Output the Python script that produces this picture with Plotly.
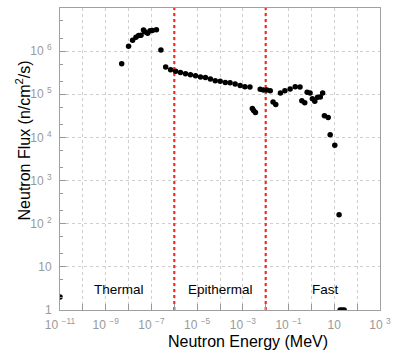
import numpy as np
import plotly.graph_objects as go

# Neutron spectrum: energy (MeV) vs flux (n/cm^2/s)
energy_mev = [
    1e-11, 5.0e-9, 1.0e-8, 1.5e-8, 2.1e-8, 2.75e-8, 3.5e-8, 4.5e-8, 5.1e-8, 6.8e-8,
    8.7e-8, 1.1e-7, 1.65e-7, 2.6e-7, 4.2e-7, 6.9e-7, 1.15e-6, 1.86e-6, 3.1e-6, 5.1e-6,
    8.5e-6, 1.4e-5, 2.3e-5, 3.8e-5, 6.2e-5, 1.02e-4, 1.7e-4, 2.75e-4, 4.6e-4, 7.6e-4,
    1.23e-3, 2.04e-3, 2.6e-3, 2.95e-3, 3.55e-3, 5.75e-3, 7.9e-3, 1.12e-2, 1.58e-2, 2.1e-2,
    2.75e-2, 4.4e-2, 6.9e-2, 0.117, 0.195, 0.316, 0.38, 0.51, 0.65, 0.87,
    1.1, 1.4, 1.86, 2.45, 3.1, 3.7, 5.4, 6.6, 10.5, 16.2,
    18.0, 22.0, 27.0,
]
flux = [
    2.0, 5.1e5, 1.3e6, 1.8e6, 2.1e6, 2.3e6, 2.35e6, 3.1e6, 2.8e6, 2.6e6,
    2.95e6, 3.0e6, 3.15e6, 1.07e6, 4.3e5, 3.7e5, 3.4e5, 3.2e5, 3.0e5, 2.85e5,
    2.7e5, 2.5e5, 2.45e5, 2.25e5, 2.05e5, 2.0e5, 1.87e5, 1.85e5, 1.74e5, 1.6e5,
    1.5e5, 1.47e5, 4.7e4, 4.2e4, 3.8e4, 1.3e5, 1.26e5, 1.25e5, 1.2e5, 6.6e4,
    5.8e4, 1.07e5, 1.2e5, 1.32e5, 1.5e5, 1.48e5, 7.1e4, 6.4e4, 1.12e5, 1.07e5,
    7.9e4, 6.9e4, 8.5e4, 8.7e4, 1.07e5, 3.2e4, 2.9e4, 1.15e4, 6.6e3, 162,
    1.0, 1.0, 1.0,
]

# Region boundaries (MeV) and region labels
boundaries_mev = [1e-6, 1e-2]
region_names = ["Thermal", "Epithermal", "Fast"]
region_centers_mev = [4e-9, 1e-4, 4.2]
label_flux = 3.0

# Decade ticks; x labels only on odd exponents, y labels up to 10^6
x_tick_exps = list(range(-11, 4))
y_tick_exps = list(range(0, 8))
x_range_exp = [-11, 3]
y_range_exp = [0, 7]


def decade_label(p):
    if p == 0:
        return "1"
    if p == 1:
        return "10"
    sign = "\u2212" if p < 0 else ""
    return f"10 <sup>{sign}{abs(p)}</sup>"


x_tick_text = [decade_label(p) if p % 2 != 0 else "" for p in x_tick_exps]
y_tick_text = [decade_label(p) if p < 7 else "" for p in y_tick_exps]

grey = "#999999"
font_family = "Liberation Sans, Arial, sans-serif"
title_font = dict(size=16, color="black", family=font_family)

fig = go.Figure()

for b in boundaries_mev:
    fig.add_trace(go.Scatter(
        x=[b, b], y=[10 ** y_range_exp[0], 10 ** y_range_exp[1]],
        mode="lines", line=dict(color="#ff2a1a", width=2.2, dash="dot"),
        hoverinfo="skip", showlegend=False,
    ))

fig.add_trace(go.Scatter(
    x=energy_mev, y=flux, mode="markers",
    marker=dict(color="black", size=5.5),
    showlegend=False,
))

for name, xc in zip(region_names, region_centers_mev):
    fig.add_annotation(
        x=np.log10(xc), y=np.log10(label_flux), xref="x", yref="y",
        text=name, showarrow=False,
        font=dict(size=13.5, color="black", family=font_family),
    )

# Axis titles
fig.add_annotation(
    text="Neutron Energy (MeV)", xref="paper", yref="paper",
    x=0.588, y=-0.105, xanchor="center", yanchor="middle",
    showarrow=False, font=title_font,
)
fig.add_annotation(
    text="Neutron Flux (n/cm<sup>2</sup>/s)", xref="paper", yref="paper",
    x=-0.116, y=0.561, xanchor="center", yanchor="middle", textangle=-90,
    showarrow=False, font=title_font,
)

axis_common = dict(
    type="log",
    tickmode="array",
    showline=True, linecolor="#a0a0a0", linewidth=1, mirror=True,
    showgrid=True, gridcolor="#cfcfcf", griddash="dot", gridwidth=1,
    ticks="inside", ticklen=6, tickcolor=grey,
    minor=dict(ticks="inside", ticklen=3, tickcolor=grey, showgrid=False),
    tickfont=dict(size=12, color=grey, family=font_family),
    tickangle=0,
    zeroline=False,
)

fig.update_xaxes(
    **axis_common,
    range=x_range_exp, ticklabelstandoff=4,
    tickvals=[10.0 ** p for p in x_tick_exps], ticktext=x_tick_text,
)
fig.update_yaxes(
    **axis_common,
    range=y_range_exp, ticklabelstandoff=5,
    tickvals=[10.0 ** p for p in y_tick_exps], ticktext=y_tick_text,
)

fig.update_layout(
    width=398, height=356,
    margin=dict(l=60, r=15, t=7, b=46),
    paper_bgcolor="white", plot_bgcolor="white",
    font=dict(family=font_family),
)

fig.write_html("out.html")
